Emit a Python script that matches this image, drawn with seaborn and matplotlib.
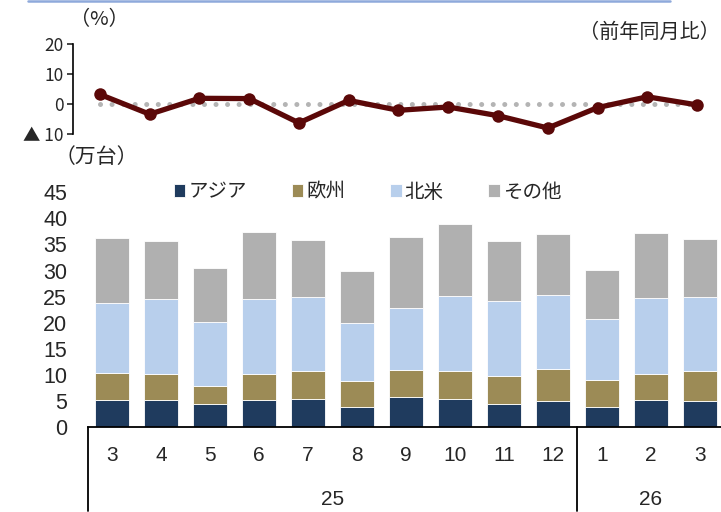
import matplotlib
matplotlib.use("Agg")
import matplotlib.pyplot as plt
from matplotlib.lines import Line2D
import seaborn as sns
import pandas as pd
import numpy as np

sns.set_style("white")
plt.rcParams['font.family'] = ['Liberation Sans', 'Noto Sans CJK JP', 'DejaVu Sans']

months = ["3", "4", "5", "6", "7", "8", "9", "10", "11", "12", "1", "2", "3"]
keys = ["25-3", "25-4", "25-5", "25-6", "25-7", "25-8", "25-9", "25-10", "25-11", "25-12", "26-1", "26-2", "26-3"]
years = ["25", "26"]

asia = [5.1, 5.1, 4.4, 5.1, 5.4, 3.9, 5.7, 5.3, 4.4, 5.0, 3.9, 5.2, 5.0]
europe = [5.2, 5.0, 3.4, 5.0, 5.3, 4.9, 5.2, 5.45, 5.45, 6.1, 5.1, 5.05, 5.75]
namerica = [13.5, 14.5, 12.4, 14.4, 14.2, 11.1, 12.0, 14.35, 14.25, 14.3, 11.7, 14.55, 14.25]
others = [12.4, 11.1, 10.2, 12.8, 11.0, 10.1, 13.6, 13.9, 11.5, 11.7, 9.4, 12.4, 11.1]
yoy = [3.2, -3.4, 1.9, 1.8, -6.3, 1.2, -2.1, -1.0, -3.9, -8.0, -1.2, 2.4, -0.3]

series_names = ["アジア", "欧州", "北米", "その他"]
colors = ["#1F3B5E", "#9C8B56", "#B8CFEC", "#B0B0B0"]

W, H = 721, 512
fig = plt.figure(figsize=(W / 100, H / 100), dpi=100)

def rect(x0, y0, x1, y1):
    return [x0 / W, 1 - y1 / H, (x1 - x0) / W, (y1 - y0) / H]

cjk = ["Noto Sans CJK JP", "DejaVu Sans"]

# ---------- top line chart ----------
axt = fig.add_axes(rect(73, 44, 721, 134))
xs = np.arange(len(yoy))
axt.plot([0, len(yoy) - 1], [0, 0], color="#B4B4B4", lw=3.6,
         linestyle=(0, (0.01, 2.3)), dash_capstyle="round", zorder=1)
dfl = pd.DataFrame({"x": xs, "yoy": yoy})
sns.lineplot(data=dfl, x="x", y="yoy", ax=axt, color="#5B0808", lw=3.8,
             marker="o", markersize=9, markeredgewidth=0, zorder=3)
axt.set_xlim(-0.54, 12.48)
axt.set_ylim(-10, 20)
axt.set_yticks([-10, 0, 10, 20])
axt.set_yticklabels(["▲ 10", "0", "10", "20"])
for s in ["top", "right", "bottom"]:
    axt.spines[s].set_visible(False)
axt.spines["left"].set_color("black")
axt.spines["left"].set_linewidth(1.2)
axt.tick_params(axis="y", left=True, length=4, width=1.2, pad=3, labelsize=12.5,
                direction="out")
for lab in axt.get_yticklabels():
    lab.set_fontfamily(cjk)
axt.set_xticks([])
axt.set_xlabel("")
axt.set_ylabel("")
axt.patch.set_alpha(0)

# ---------- bottom bar chart ----------
axb = fig.add_axes(rect(88, 192.3, 721, 427))
df = pd.DataFrame({"key": keys, "asia": asia, "europe": europe,
                   "na": namerica, "oth": others})
bottom = np.zeros(len(keys))
for col, name, c in zip(["asia", "europe", "na", "oth"], series_names, colors):
    sns.barplot(data=df, x="key", y=col, order=keys, bottom=bottom, color=c,
                label=name, width=0.7, ax=axb, saturation=1,
                edgecolor="white", linewidth=0.6)
    bottom = bottom + df[col].values
if axb.get_legend() is not None:
    axb.get_legend().remove()

axb.set_xlim(-0.49, 12.43)
axb.set_ylim(0, 45)
axb.set_yticks(range(0, 46, 5))
axb.tick_params(axis="y", left=False, length=0, pad=15, labelsize=15.5)
axb.tick_params(axis="x", bottom=False, length=0, pad=14, labelsize=15)
axb.set_xticks(range(len(keys)))
axb.set_xticklabels(months)
axb.set_xlabel("")
axb.set_ylabel("")
for s in ["top", "right", "left"]:
    axb.spines[s].set_visible(False)
axb.spines["bottom"].set_color("black")
axb.spines["bottom"].set_linewidth(1.3)
axb.patch.set_alpha(0)

# category box lines below axis
trans = axb.get_xaxis_transform()
for xv in [-0.49, 9.5, 12.5]:
    axb.add_line(Line2D([xv, xv], [0, -0.36], transform=trans, color="black",
                        lw=1.3, clip_on=False))
axb.text(4.5, -0.31, years[0], transform=trans, ha="center", va="center", fontsize=15)
axb.text(11.0, -0.31, years[1], transform=trans, ha="center", va="center", fontsize=15)

handles, labels = axb.get_legend_handles_labels()
leg = fig.legend(handles, labels, loc="center left", bbox_to_anchor=(166 / W, 1 - 192 / H),
                 ncol=4, frameon=False, handlelength=0.6, handleheight=0.6,
                 handletextpad=0.15, columnspacing=2.3, borderaxespad=0,
                 prop={"family": cjk, "size": 14})

# ---------- texts ----------
fig.text(70 / W, 1 - 20 / H, "（%）", family=cjk, fontsize=14.5, ha="left", va="center")
fig.text(720 / W, 1 - 32 / H, "（前年同月比）", family=cjk, fontsize=14.5, ha="right", va="center")
fig.text(55 / W, 1 - 157 / H, "（万台）", family=cjk, fontsize=15, ha="left", va="center")

# header line
fig.add_artist(Line2D([28 / W, 670 / W], [1 - 1 / H, 1 - 1 / H], transform=fig.transFigure,
                      color="#8EA9DB", lw=1.8))

fig.savefig("out.png", dpi=100)
